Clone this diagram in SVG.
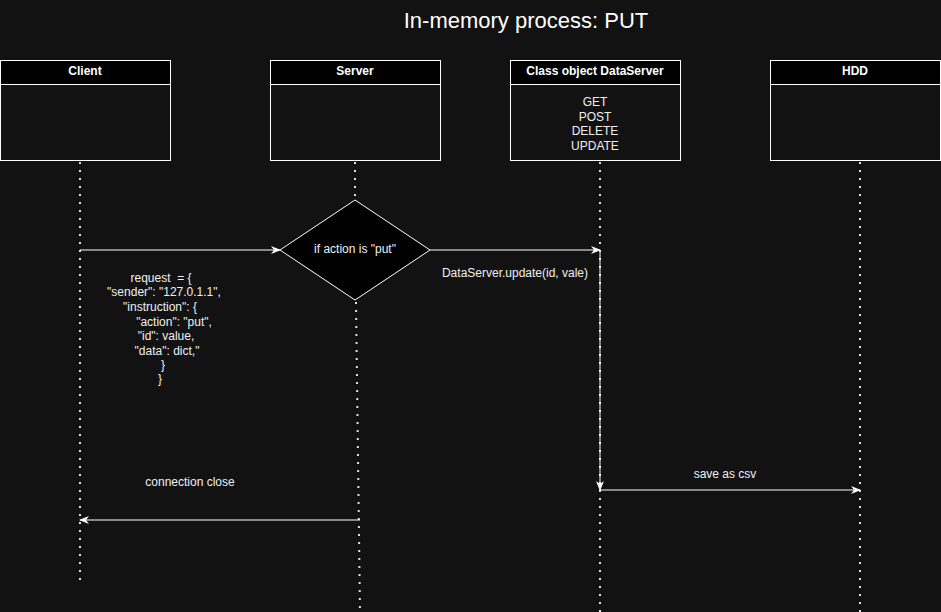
<svg xmlns="http://www.w3.org/2000/svg" width="941" height="612" viewBox="0 0 941 612">
<style>
.bg{fill:#121212}
.box{fill:#121212;stroke:#ffffff;stroke-width:1}
.hdr{fill:#000000;stroke:#ffffff;stroke-width:1}
.ht{font-family:"Liberation Sans",Arial,sans-serif;font-size:12px;font-weight:bold;fill:#ffffff;text-anchor:middle}
.t{font-family:"Liberation Sans",Arial,sans-serif;font-size:12px;fill:#f0f0f0;text-anchor:middle;white-space:pre}
.life{stroke:#e0e0e0;stroke-width:2;stroke-dasharray:2 6;fill:none}
.msg{stroke:#ffffff;stroke-width:1;fill:none}
</style>
<defs>
<marker id="arr" viewBox="0 0 10 10" refX="9" refY="5" markerWidth="10" markerHeight="10" markerUnits="userSpaceOnUse" orient="auto">
<path d="M0,1 L10,5 L0,9 L3,5 Z" fill="#ffffff"/>
</marker>
</defs>
<rect class="bg" x="0" y="0" width="941" height="612"/>
<text x="526" y="28" font-family="'Liberation Sans',Arial,sans-serif" font-size="22" fill="#ffffff" text-anchor="middle">In-memory process: PUT</text>
<g id="lifelines">
<line class="life" x1="80" y1="162" x2="80" y2="580"/>
<line class="life" x1="355" y1="162" x2="355" y2="200"/>
<line class="life" x1="356" y1="302" x2="360" y2="612"/>
<line class="life" x1="600" y1="162" x2="600" y2="612"/>
<line class="life" x1="860" y1="162" x2="860" y2="612"/>
</g>
<g id="client">
<rect class="box" x="0.5" y="60.5" width="170" height="100"/>
<rect class="hdr" x="0.5" y="60.5" width="170" height="24"/>
<text class="ht" x="85" y="75">Client</text>
</g>
<g id="server">
<rect class="box" x="270.5" y="60.5" width="170" height="100"/>
<rect class="hdr" x="270.5" y="60.5" width="170" height="24"/>
<text class="ht" x="355" y="75">Server</text>
</g>
<g id="dataserver">
<rect class="box" x="510.5" y="60.5" width="170" height="100"/>
<rect class="hdr" x="510.5" y="60.5" width="170" height="24"/>
<text class="ht" x="595" y="75">Class object DataServer</text>
<text class="t" x="595" y="106">GET</text>
<text class="t" x="595" y="121">POST</text>
<text class="t" x="595" y="135">DELETE</text>
<text class="t" x="595" y="150">UPDATE</text>
</g>
<g id="hdd">
<rect class="box" x="770.5" y="60.5" width="170" height="100"/>
<rect class="hdr" x="770.5" y="60.5" width="170" height="24"/>
<text class="ht" x="855" y="75">HDD</text>
</g>
<g id="decision">
<polygon points="355,200 430,250 355,300 280,250" fill="#000000" stroke="#ffffff" stroke-width="1"/>
<text class="t" x="355" y="253">if action is "put"</text>
</g>
<g id="connectors">
<line class="msg" x1="80" y1="250" x2="280" y2="250" marker-end="url(#arr)"/>
<line class="msg" x1="430" y1="250" x2="600" y2="250" marker-end="url(#arr)"/>
<line class="msg" x1="600" y1="250" x2="600" y2="490" marker-end="url(#arr)"/>
<line class="msg" x1="600" y1="490" x2="860" y2="490" marker-end="url(#arr)"/>
<line class="msg" x1="360" y1="520" x2="80" y2="520" marker-end="url(#arr)"/>
</g>
<g id="labels">
<text class="t" x="515" y="277">DataServer.update(id, vale)</text>
<text class="t" x="725" y="478">save as csv</text>
<text class="t" x="190" y="486">connection close</text>
<text class="t" x="161" y="282" xml:space="preserve">request  = {</text>
<text class="t" x="164" y="296">"sender": "127.0.1.1",</text>
<text class="t" x="160" y="311">"instruction": {</text>
<text class="t" x="174" y="326">"action": "put",</text>
<text class="t" x="166" y="340">"id": value,</text>
<text class="t" x="167" y="355">"data": dict,"</text>
<text class="t" x="163" y="369">}</text>
<text class="t" x="160" y="383">}</text>
</g>
</svg>
